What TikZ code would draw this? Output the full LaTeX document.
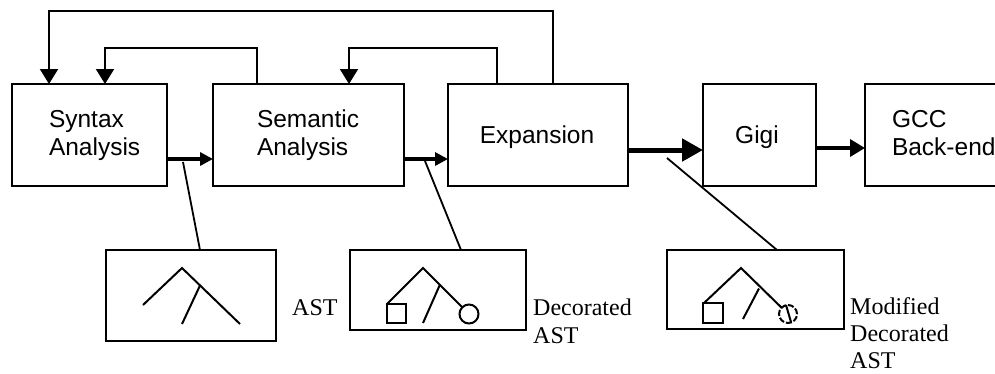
\documentclass[tikz,border=0pt]{standalone}
\usepackage{fontspec}
\setmainfont{Liberation Sans}
\newfontfamily\labelserif{Liberation Serif}
\usetikzlibrary{arrows.meta}
\begin{document}
\begin{tikzpicture}[x=1pt,y=-1pt,
  box/.style={draw, line width=2pt, inner sep=0pt, outer sep=0pt},
  btext/.style={font=\fontsize{24.5}{28}\selectfont, align=left, inner sep=0pt, outer sep=0pt},
  treebox/.style={draw, line width=2pt, inner sep=0pt, outer sep=0pt},
  fb/.style={line width=2pt, -{Triangle[length=15pt,width=18pt]}},
  flowa/.style={line width=4pt, -{Triangle[length=13pt,width=13pt]}},
  flowb/.style={line width=5pt, -{Triangle[length=21pt,width=22pt]}},
  flowc/.style={line width=3.5pt, -{Triangle[length=15pt,width=17pt]}},
  conn/.style={line width=1.8pt},
  tree/.style={line width=2pt},
  lbl/.style={font=\labelserif\fontsize{24}{27.5}\selectfont, align=left, anchor=north west, inner sep=0pt}
]
\useasboundingbox (0,0) rectangle (995,373);
\clip (0,0) rectangle (995,373);

% main boxes
\node[box, minimum width=155pt, minimum height=102pt] (syn) at (89.5,135) {};
\node[box, minimum width=191pt, minimum height=102pt] (sem) at (308.5,135) {};
\node[box, minimum width=180pt, minimum height=102pt] (exp) at (538,135) {};
\node[box, minimum width=113pt, minimum height=102pt] (gigi) at (759.5,135) {};
\node[box, minimum width=204pt, minimum height=102pt] (gcc) at (967,135) {};

% box texts
\node[btext, anchor=north west] (synt) at (49,110) {Syntax\\Analysis};
\node[btext, anchor=north west] (semt) at (257,110) {Semantic\\Analysis};
\node[btext, anchor=base] (expt) at (537,143) {Expansion};
\node[btext, anchor=base] (gigit) at (757,143) {Gigi};
\node[btext, anchor=north west] (gcct) at (892,110) {GCC\\Back-end};

% tree boxes
\node[treebox, minimum width=170pt, minimum height=91pt] (ast) at (191,295.5) {};
\node[treebox, minimum width=176pt, minimum height=80pt] (dec) at (438,290) {};
\node[treebox, minimum width=177pt, minimum height=79pt] (mod) at (755.5,289.5) {};

% labels
\node[lbl] (astl) at (292,299) {AST};
\node[lbl] (decl) at (533,299) {Decorated\\AST};
\node[lbl, font=\labelserif\fontsize{24}{27}\selectfont] (modl) at (850,297) {Modified\\Decorated\\AST};

% level coordinates
\coordinate (yA) at (0,159);
\coordinate (yB) at (0,150);
\coordinate (yC) at (0,148);
\coordinate (ytop) at (0,11);
\coordinate (ymid) at (0,48);

% flow arrows
\draw[flowa] (syn.east |- yA) -- (sem.west |- yA);
\draw[flowa] (sem.east |- yA) -- (exp.west |- yA);
\draw[flowb] (exp.east |- yB) -- (gigi.west |- yB);
\draw[flowc] (gigi.east |- yC) -- (gcc.west |- yC);

% feedback arrows
\coordinate (eo) at ([xshift=105pt]exp.north west);
\coordinate (ei) at ([xshift=49pt]exp.north west);
\coordinate (si) at ([xshift=44pt]sem.north west);
\coordinate (so) at ([xshift=136pt]sem.north west);
\coordinate (s1) at ([xshift=37pt]syn.north west);
\coordinate (s2) at ([xshift=93pt]syn.north west);
\draw[fb] (eo) -- (eo |- ytop) -| (s1);
\draw[fb] (si) -- (si |- ymid) -| (s2);
\draw[fb] (ei) -- (ei |- ymid) -| (so);

% connectors to tree boxes
\coordinate (c1) at (183,162);
\coordinate (c2) at (425,161);
\coordinate (c3) at (667,158);
\draw[conn] (c1) -- ([xshift=94pt]ast.north west);
\draw[conn] (c2) -- ([xshift=111pt]dec.north west);
\draw[conn] (c3) -- ([xshift=110pt]mod.north west);

% AST tree
\draw[tree] (143,305) -- (182,268) -- (240,324);
\draw[tree] (200,285.5) -- (182,324);

% Decorated AST tree
\draw[tree] (387,304) -- (423,268) -- (462.3,307.3);
\draw[tree] (440,284.5) -- (423,323);
\draw[tree] (387,304) rectangle (406,323);
\draw[tree] (469,314) circle[radius=9.5pt];

% Modified decorated AST tree
\draw[tree] (704,303) -- (741,268) -- (781.6,307.7);
\draw[tree] (759,288.5) -- (743,319);
\draw[tree] (703,303) rectangle (723,323);
\draw[tree, dash pattern=on 6pt off 2pt] (788,314) circle[radius=9pt];
\draw[tree] (786,305) -- (791,322);
\end{tikzpicture}
\end{document}
